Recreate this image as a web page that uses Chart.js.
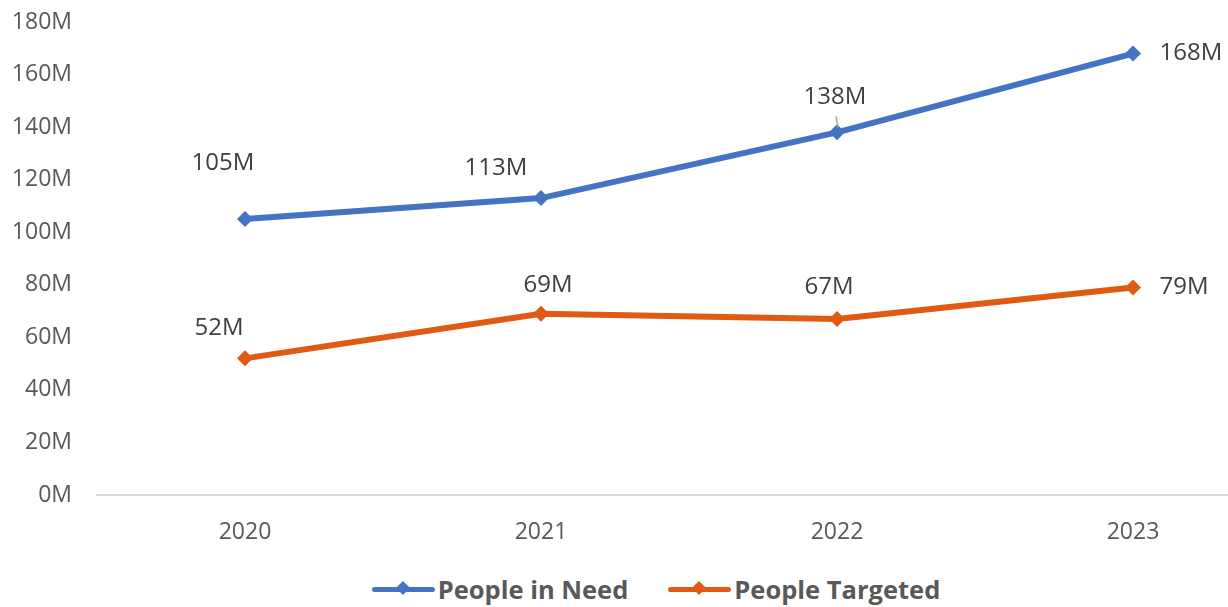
<!DOCTYPE html>
<html>
<head>
<meta charset="utf-8">
<script src="https://cdn.jsdelivr.net/npm/chart.js@4.4.0/dist/chart.umd.min.js"></script>
<style>
  html, body { margin: 0; padding: 0; background: #fff; overflow: hidden; }
  #wrap { width: 1312px; }
  #chartBox { position: relative; width: 1312px; height: 565px; }
  #legend {
    display: flex; justify-content: center; align-items: center; gap: 40px;
    font-family: "Open Sans", sans-serif; font-weight: 700; font-size: 25.5px; color: #595959;
    height: 42px; margin-top: 3px;
  }
  .item { display: flex; align-items: center; }
  .swatch { position: relative; width: 63px; height: 5px; border-radius: 3px; margin-right: 3px; }
  .swatch::after {
    content: ""; position: absolute; left: 26px; top: -4px; width: 10px; height: 10px;
    background: inherit; transform: rotate(45deg);
  }
</style>
</head>
<body>
<div id="wrap">
  <div id="chartBox"><canvas id="needChart"></canvas></div>
  <div id="legend"></div>
</div>
<script>
// ========= DATA ========= //
const years = ["2020", "2021", "2022", "2023"];
const peopleInNeed = [105, 113, 138, 168];     // millions
const peopleTargeted = [52, 69, 67, 79];       // millions
const yTicks = [0, 20, 40, 60, 80, 100, 120, 140, 160, 180];

const BLUE = "#4472C4";
const ORANGE = "#E05A14";

// where each value label sits relative to its point
const labelOffsets = [
  [[-22, -56], [-45, -30], [-2, -35], [58, 0]],
  [[-26, -30], [7, -29], [-8, -32], [51, 0]],
];

// ========= VALUE LABELS ========= //
const valueLabels = {
  id: "valueLabels",
  afterDatasetsDraw(chart) {
    const ctx = chart.ctx;
    ctx.save();
    ctx.font = '24px "Open Sans", sans-serif';
    ctx.fillStyle = "#404040";
    ctx.textAlign = "center";
    ctx.textBaseline = "middle";
    chart.data.datasets.forEach((ds, di) => {
      const meta = chart.getDatasetMeta(di);
      meta.data.forEach((pt, i) => {
        const [dx, dy] = labelOffsets[di][i];
        ctx.fillText(ds.data[i] + "M", pt.x + dx, pt.y + dy);
      });
    });
    // small leader line on the 2022 need label
    const p = chart.getDatasetMeta(0).data[2];
    ctx.strokeStyle = "#A6A6A6";
    ctx.lineWidth = 1.5;
    ctx.beginPath();
    ctx.moveTo(p.x - 1, p.y - 16);
    ctx.lineTo(p.x + 1, p.y - 5);
    ctx.stroke();
    ctx.restore();
  },
};

// ========= CHART ========= //
const needChart = new Chart(document.getElementById("needChart"), {
  type: "line",
  data: {
    labels: years,
    datasets: [
      {
        label: "People in Need",
        data: peopleInNeed,
        borderColor: BLUE,
        backgroundColor: BLUE,
        borderWidth: 6,
        pointStyle: "rectRot",
        pointRadius: 8,
        pointBorderWidth: 0,
        tension: 0,
      },
      {
        label: "People Targeted",
        data: peopleTargeted,
        borderColor: ORANGE,
        backgroundColor: ORANGE,
        borderWidth: 6,
        pointStyle: "rectRot",
        pointRadius: 8,
        pointBorderWidth: 0,
        tension: 0,
      },
    ],
  },
  options: {
    responsive: true,
    maintainAspectRatio: false,
    animation: false,
    layout: { padding: { top: 22, right: 31, left: 0, bottom: 0 } },
    plugins: {
      legend: { display: false },
      tooltip: { enabled: false },
    },
    scales: {
      x: {
        offset: true,
        grid: { display: false, drawTicks: false },
        border: { color: "#D9D9D9", width: 2 },
        ticks: {
          color: "#595959",
          padding: 24,
          font: { family: "Open Sans", size: 23 },
        },
        afterFit(scale) { scale.height = 70; },
      },
      y: {
        min: 0,
        max: 180,
        afterBuildTicks(scale) { scale.ticks = yTicks.map((v) => ({ value: v })); },
        grid: { display: false, drawTicks: false },
        border: { display: false },
        ticks: {
          color: "#595959",
          padding: 25,
          font: { family: "Open Sans", size: 23 },
          callback: (v) => v + "M",
        },
        afterFit(scale) {
          scale.width = 97;
          scale.paddingTop = 0;
          scale.paddingBottom = 0;
        },
      },
    },
  },
  plugins: [valueLabels],
});

// ========= LEGEND ========= //
const legend = document.getElementById("legend");
needChart.data.datasets.forEach((ds) => {
  const item = document.createElement("div");
  item.className = "item";
  const sw = document.createElement("span");
  sw.className = "swatch";
  sw.style.background = ds.borderColor;
  const txt = document.createElement("span");
  txt.textContent = ds.label;
  item.appendChild(sw);
  item.appendChild(txt);
  legend.appendChild(item);
});
</script>
</body>
</html>
